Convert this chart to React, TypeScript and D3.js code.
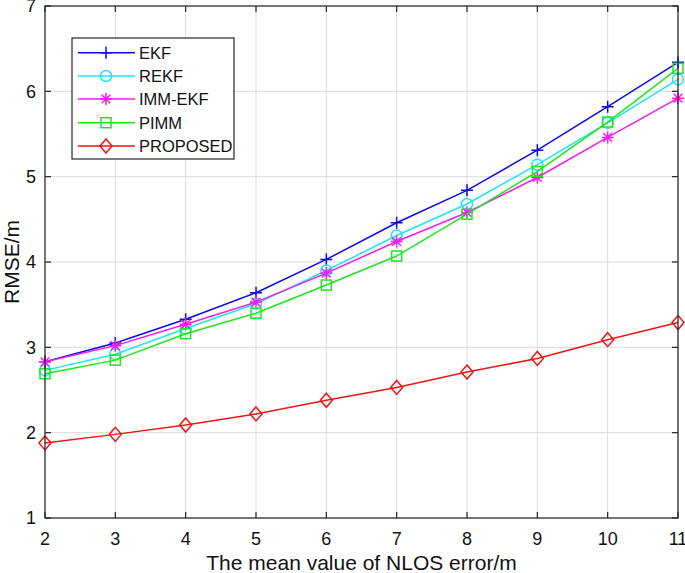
import React from "react";
import * as d3 from "d3";

const xValues = [2, 3, 4, 5, 6, 7, 8, 9, 10, 11];
const ekf = [2.83, 3.05, 3.33, 3.64, 4.03, 4.46, 4.84, 5.31, 5.82, 6.34];
const rekf = [2.73, 2.92, 3.22, 3.51, 3.9, 4.31, 4.68, 5.14, 5.63, 6.14];
const immEkf = [2.83, 3.02, 3.27, 3.53, 3.87, 4.24, 4.58, 4.99, 5.46, 5.92];
const pimm = [2.69, 2.85, 3.16, 3.4, 3.73, 4.07, 4.56, 5.06, 5.64, 6.27];
const proposed = [1.88, 1.98, 2.09, 2.22, 2.38, 2.53, 2.71, 2.87, 3.09, 3.29];
const xTicks = [2, 3, 4, 5, 6, 7, 8, 9, 10, 11];
const yTicks = [1, 2, 3, 4, 5, 6, 7];
const seriesNames = ["EKF", "REKF", "IMM-EKF", "PIMM", "PROPOSED"];
const seriesColors = ["#0a0ae8", "#1ee6f0", "#f01ef0", "#1ee61e", "#f01414"];
const seriesMarkers = ["plus", "circle", "star", "square", "diamond"];
const xLabel = "The mean value of NLOS error/m";
const yLabel = "RMSE/m";

const FONT = "'Liberation Sans', Arial, sans-serif";

function Marker({ type, x, y, color }: { type: string; x: number; y: number; color: string }) {
  const sw = 1.5;
  if (type === "plus") {
    return (
      <path d={`M${x - 6},${y}H${x + 6}M${x},${y - 6}V${y + 6}`} stroke={color} strokeWidth={sw} fill="none" />
    );
  }
  if (type === "circle") {
    return <circle cx={x} cy={y} r={5.5} stroke={color} strokeWidth={sw} fill="none" />;
  }
  if (type === "star") {
    const r = 6;
    const d = r * 0.72;
    return (
      <path
        d={`M${x - r},${y}H${x + r}M${x},${y - r}V${y + r}M${x - d},${y - d}L${x + d},${y + d}M${x - d},${y + d}L${x + d},${y - d}`}
        stroke={color}
        strokeWidth={sw}
        fill="none"
      />
    );
  }
  if (type === "square") {
    return <rect x={x - 5} y={y - 5} width={10} height={10} stroke={color} strokeWidth={sw} fill="none" />;
  }
  return (
    <path d={`M${x},${y - 7}L${x + 6},${y}L${x},${y + 7}L${x - 6},${y}Z`} stroke={color} strokeWidth={sw} fill="none" />
  );
}

export default function App() {
  const width = 685;
  const height = 573;
  const left = 45;
  const right = 678;
  const top = 6;
  const bottom = 518;
  const x = d3.scaleLinear().domain([2, 11]).range([left, right]);
  const y = d3.scaleLinear().domain([1, 7]).range([bottom, top]);
  const allSeries = [ekf, rekf, immEkf, pimm, proposed];
  const line = d3
    .line<number>()
    .x((_, i) => x(xValues[i]))
    .y((d) => y(d));
  const tick = 6;

  const legX = 72;
  const legY = 38;
  const legW = 162;
  const legH = 121;
  const legRowY = [52.7, 76, 99, 122.7, 146];

  return (
    <svg
      width={width}
      height={height}
      style={{ position: "absolute", left: 0, top: 0, background: "#fff" }}
      fontFamily={FONT}
    >
      <rect x={0} y={0} width={width} height={height} fill="#fff" />
      {/* grid */}
      {xTicks.map((t) => (
        <line key={"gx" + t} x1={x(t)} x2={x(t)} y1={top} y2={bottom} stroke="#dcdcdc" strokeWidth={1} />
      ))}
      {yTicks.map((t) => (
        <line key={"gy" + t} x1={left} x2={right} y1={y(t)} y2={y(t)} stroke="#dcdcdc" strokeWidth={1} />
      ))}
      {/* series */}
      {allSeries.map((s, si) => (
        <g key={"s" + si}>
          <path d={line(s) || ""} stroke={seriesColors[si]} strokeWidth={1.5} fill="none" />
          {s.map((v, i) => (
            <Marker key={i} type={seriesMarkers[si]} x={x(xValues[i])} y={y(v)} color={seriesColors[si]} />
          ))}
        </g>
      ))}
      {/* axes box */}
      <rect x={left} y={top} width={right - left} height={bottom - top} fill="none" stroke="#262626" strokeWidth={1.2} />
      {xTicks.map((t) => (
        <g key={"tx" + t}>
          <line x1={x(t)} x2={x(t)} y1={bottom} y2={bottom - tick} stroke="#262626" strokeWidth={1.2} />
          <line x1={x(t)} x2={x(t)} y1={top} y2={top + tick} stroke="#262626" strokeWidth={1.2} />
          <text x={x(t)} y={545} textAnchor="middle" fontSize={18} fill="#111">
            {t}
          </text>
        </g>
      ))}
      {yTicks.map((t) => (
        <g key={"ty" + t}>
          <line x1={left} x2={left + tick} y1={y(t)} y2={y(t)} stroke="#262626" strokeWidth={1.2} />
          <line x1={right} x2={right - tick} y1={y(t)} y2={y(t)} stroke="#262626" strokeWidth={1.2} />
          <text x={36} y={y(t)} dy="0.35em" textAnchor="end" fontSize={18} fill="#111">
            {t}
          </text>
        </g>
      ))}
      <text x={(left + right) / 2} y={570} textAnchor="middle" fontSize={21} fill="#111">
        {xLabel}
      </text>
      <text
        transform={`translate(19,${(top + bottom) / 2}) rotate(-90)`}
        textAnchor="middle"
        fontSize={21}
        fill="#111"
      >
        {yLabel}
      </text>
      {/* legend */}
      <rect x={legX} y={legY} width={legW} height={legH} fill="#fff" stroke="#262626" strokeWidth={1.2} />
      {seriesNames.map((n, i) => (
        <g key={"l" + i}>
          <line x1={78} x2={135} y1={legRowY[i]} y2={legRowY[i]} stroke={seriesColors[i]} strokeWidth={1.5} />
          <Marker type={seriesMarkers[i]} x={106} y={legRowY[i]} color={seriesColors[i]} />
          <text x={139} y={legRowY[i]} dy="0.36em" fontSize={16.5} fill="#111">
            {n}
          </text>
        </g>
      ))}
    </svg>
  );
}
